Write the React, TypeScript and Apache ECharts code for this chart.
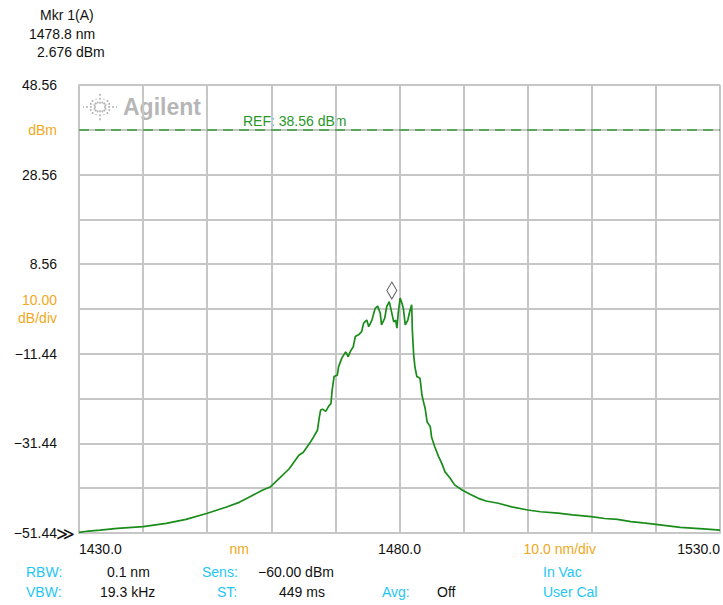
import React, { useEffect, useRef } from "react";
import * as echarts from "echarts";

// Trace (wavelength in nm, power in dBm)
const wavelengthNm = [
  1430.0, 1431.5, 1433.3, 1436.0, 1440.0, 1443.6, 1446.7, 1449.9, 1452.9, 1455.0,
  1456.6, 1458.6, 1459.9, 1461.2, 1462.8, 1464.3, 1465.0, 1465.9, 1466.6, 1467.2,
  1467.5, 1467.7, 1468.0, 1468.5, 1469.0, 1469.3, 1469.5, 1469.8, 1470.3, 1470.5,
  1471.0, 1471.6, 1472.0, 1472.3, 1472.8, 1473.1, 1473.6, 1474.1, 1474.4, 1474.9,
  1475.2, 1475.7, 1476.2, 1476.6, 1477.0, 1477.2, 1477.7, 1478.0, 1478.4, 1478.7,
  1479.1, 1479.4, 1479.6, 1479.8, 1480.1, 1480.4, 1480.6, 1480.9, 1481.3, 1481.6,
  1481.9, 1482.0, 1482.2, 1482.4, 1482.7, 1483.2, 1483.5, 1483.8, 1484.0, 1484.3,
  1484.8, 1485.0, 1485.5, 1486.1, 1486.6, 1487.1, 1487.9, 1488.6, 1489.7, 1491.0,
  1492.3, 1493.5, 1495.4, 1497.5, 1500.0, 1502.0, 1504.7, 1507.0, 1509.9, 1512.0,
  1514.0, 1516.1, 1518.0, 1520.0, 1523.8, 1527.4, 1530.0,
];
const powerDbm = [
  -51.3, -51.0, -50.8, -50.4, -50.0, -49.3, -48.4, -47.1, -45.7, -44.6,
  -43.4, -41.9, -41.1, -39.3, -37.1, -34.1, -33.4, -31.6, -30.0, -28.5,
  -25.5, -24.0, -23.8, -24.3, -23.0, -22.6, -19.5, -16.5, -16.2, -14.3,
  -12.4, -11.0, -12.1, -11.0, -9.8, -7.6, -7.2, -6.5, -4.6, -3.9,
  -5.4, -3.9, -1.3, -0.8, -2.4, -5.0, -3.5, -0.9, 0.2, -1.7,
  -4.3, -3.9, -5.7, -2.4, 1.0, -0.2, -1.3, -5.0, -3.9, -2.0,
  -0.5, -6.1, -11.5, -14.3, -16.5, -16.9, -20.6, -22.5, -23.6, -26.6,
  -27.7, -30.0, -32.2, -34.4, -35.9, -37.8, -39.2, -40.7, -41.8, -42.8,
  -43.7, -44.3, -44.8, -45.6, -46.3, -46.7, -47.0, -47.4, -47.8, -48.2,
  -48.4, -48.9, -49.2, -49.5, -50.2, -50.5, -50.8,
];

const bottomDbm = -51.44;
const refLevelDbm = 38.56;
const markerNm = 1478.8;
const markerDbm = 2.676;

// y tick labels, bottom to top, one per 10 dB division
const yTickLabels = ["−51.44", "", "−31.44", "", "−11.44", "", "8.56", "", "28.56", "", "48.56"];
const yUnitLabels = ["", "", "", "", "", "10.00\ndB/div", "", "", "", "dBm", ""];
// x labels (value -> text)
const xTickValues = [1430, 1455, 1480, 1505, 1530];
const xTickTexts = ["1430.0", "nm", "1480.0", "10.0 nm/div", "1530.0"];
const xTickIsUnit = [false, true, false, true, false];

const markerLines = ["Mkr 1(A)", "1478.8 nm", "2.676 dBm"];
const infoRow1 = [
  ["RBW:", "c", 26], ["0.1 nm", "k", 107], ["Sens:", "c", 202], ["−60.00 dBm", "k", 258], ["In Vac", "c", 543],
];
const infoRow2 = [
  ["VBW:", "c", 26], ["19.3 kHz", "k", 100], ["ST:", "c", 217], ["449 ms", "k", 279],
  ["Avg:", "c", 382], ["Off", "k", 437], ["User Cal", "c", 543],
];

const FONT = "Liberation Sans, Arial, sans-serif";
const ORANGE = "#f0a820";
const CYAN = "#1ec6f4";
const GRID = "#c6c6c6";
const GREEN = "#1a8c1a";

export default function App() {
  const ref = useRef<HTMLDivElement>(null);
  useEffect(() => {
    if (!ref.current) return;
    const chart = echarts.init(ref.current, undefined, { renderer: "svg" });

    const textEl = (text: string, x: number, y: number, color: string, extra: any = {}) => ({
      type: "text",
      x,
      y,
      style: {
        text,
        fill: color,
        font: `14px ${FONT}`,
        verticalAlign: "middle",
        align: "left",
        ...extra,
      },
    });

    const graphics: any[] = [];
    markerLines.forEach((t, i) => {
      const lefts = [40, 29, 37];
      graphics.push(textEl(t, lefts[i], 15 + i * 18.5, "#111"));
    });
    infoRow1.forEach(([t, c, x]) => graphics.push(textEl(t as string, x as number, 572, c === "c" ? CYAN : "#111")));
    infoRow2.forEach(([t, c, x]) => graphics.push(textEl(t as string, x as number, 592, c === "c" ? CYAN : "#111")));
    graphics.push(textEl("REF: 38.56 dBm", 243, 121, "#2a962a"));
    graphics.push(textEl("≫", 56, 533, "#111", { font: "18px DejaVu Sans" }));
    // Agilent logo
    graphics.push({
      type: "text",
      x: 123,
      y: 107,
      style: { text: "Agilent", fill: "#b6b6b6", font: `bold 23px ${FONT}`, verticalAlign: "middle" },
    });
    const cx = 100, cy = 107;
    for (let k = 0; k < 16; k++) {
      const a = (k * Math.PI) / 8;
      const major = k % 4 === 0;
      const r1 = major ? 4 : 5;
      const r2 = major ? 17 : k % 2 === 0 ? 14 : 11;
      graphics.push({
        type: "line",
        shape: {
          x1: cx + r1 * Math.cos(a),
          y1: cy + r1 * Math.sin(a) * 0.8,
          x2: cx + r2 * Math.cos(a),
          y2: cy + r2 * Math.sin(a) * 0.8,
        },
        style: { stroke: "#b2b2b2", lineWidth: 1.6, lineDash: [2, 2] },
      });
    }

    chart.setOption({
      animation: false,
      backgroundColor: "#fff",
      grid: { left: 79, right: 0, top: 85, bottom: 72 },
      xAxis: [
        {
          type: "value",
          min: 1430,
          max: 1530,
          interval: 10,
          axisLine: { show: true, lineStyle: { color: GRID, width: 2 } },
          axisTick: { show: false },
          axisLabel: { show: false },
          splitLine: { show: true, lineStyle: { color: GRID, width: 2 } },
        },
        {
          type: "value",
          min: 1430,
          max: 1530,
          interval: 5,
          position: "bottom",
          axisLine: { show: false },
          axisTick: { show: false },
          splitLine: { show: false },
          axisLabel: {
            show: true,
            margin: 9,
            fontSize: 14,
            fontFamily: FONT,
            color: "#111",
            alignMinLabel: "left",
            alignMaxLabel: "right",
            formatter: (v: number) => {
              const i = xTickValues.indexOf(Math.round(v));
              if (i < 0) return "";
              return xTickIsUnit[i] ? `{u|${xTickTexts[i]}}` : xTickTexts[i];
            },
            rich: { u: { color: ORANGE, fontSize: 14, fontFamily: FONT } },
          },
        },
      ],
      yAxis: {
        type: "value",
        min: 0,
        max: 100,
        interval: 10,
        axisLine: { show: true, lineStyle: { color: GRID, width: 2 } },
        axisTick: { show: false },
        splitLine: { show: true, lineStyle: { color: GRID, width: 2 } },
        axisLabel: {
          margin: 22,
          fontSize: 14,
          fontFamily: FONT,
          color: "#111",
          formatter: (v: number) => {
            const i = Math.round(v / 10);
            if (yTickLabels[i]) return yTickLabels[i];
            if (yUnitLabels[i])
              return yUnitLabels[i].split("\n").map((s) => `{u|${s}}`).join("\n");
            return "";
          },
          rich: { u: { color: ORANGE, fontSize: 14, fontFamily: FONT, lineHeight: 18 } },
        },
      },
      series: [
        {
          type: "line",
          xAxisIndex: 0,
          data: wavelengthNm.map((x, i) => [x, powerDbm[i] - bottomDbm]),
          showSymbol: false,
          lineStyle: { color: GREEN, width: 1.7 },
          z: 3,
          markLine: {
            silent: true,
            symbol: "none",
            label: { show: false },
            lineStyle: { color: "#3a9a3a", type: [10, 6], width: 1.5 },
            data: [{ yAxis: refLevelDbm - bottomDbm }],
          },
        },
        {
          type: "scatter",
          xAxisIndex: 0,
          data: [[markerNm, markerDbm - bottomDbm]],
          symbol: "diamond",
          symbolSize: [10, 17],
          itemStyle: { color: "rgba(255,255,255,0)", borderColor: "#333", borderWidth: 1 },
          z: 4,
        },
      ],
      graphic: graphics,
    });
    return () => chart.dispose();
  }, []);
  return <div ref={ref} style={{ position: "absolute", left: 0, top: 0, width: 723, height: 605 }} />;
}
